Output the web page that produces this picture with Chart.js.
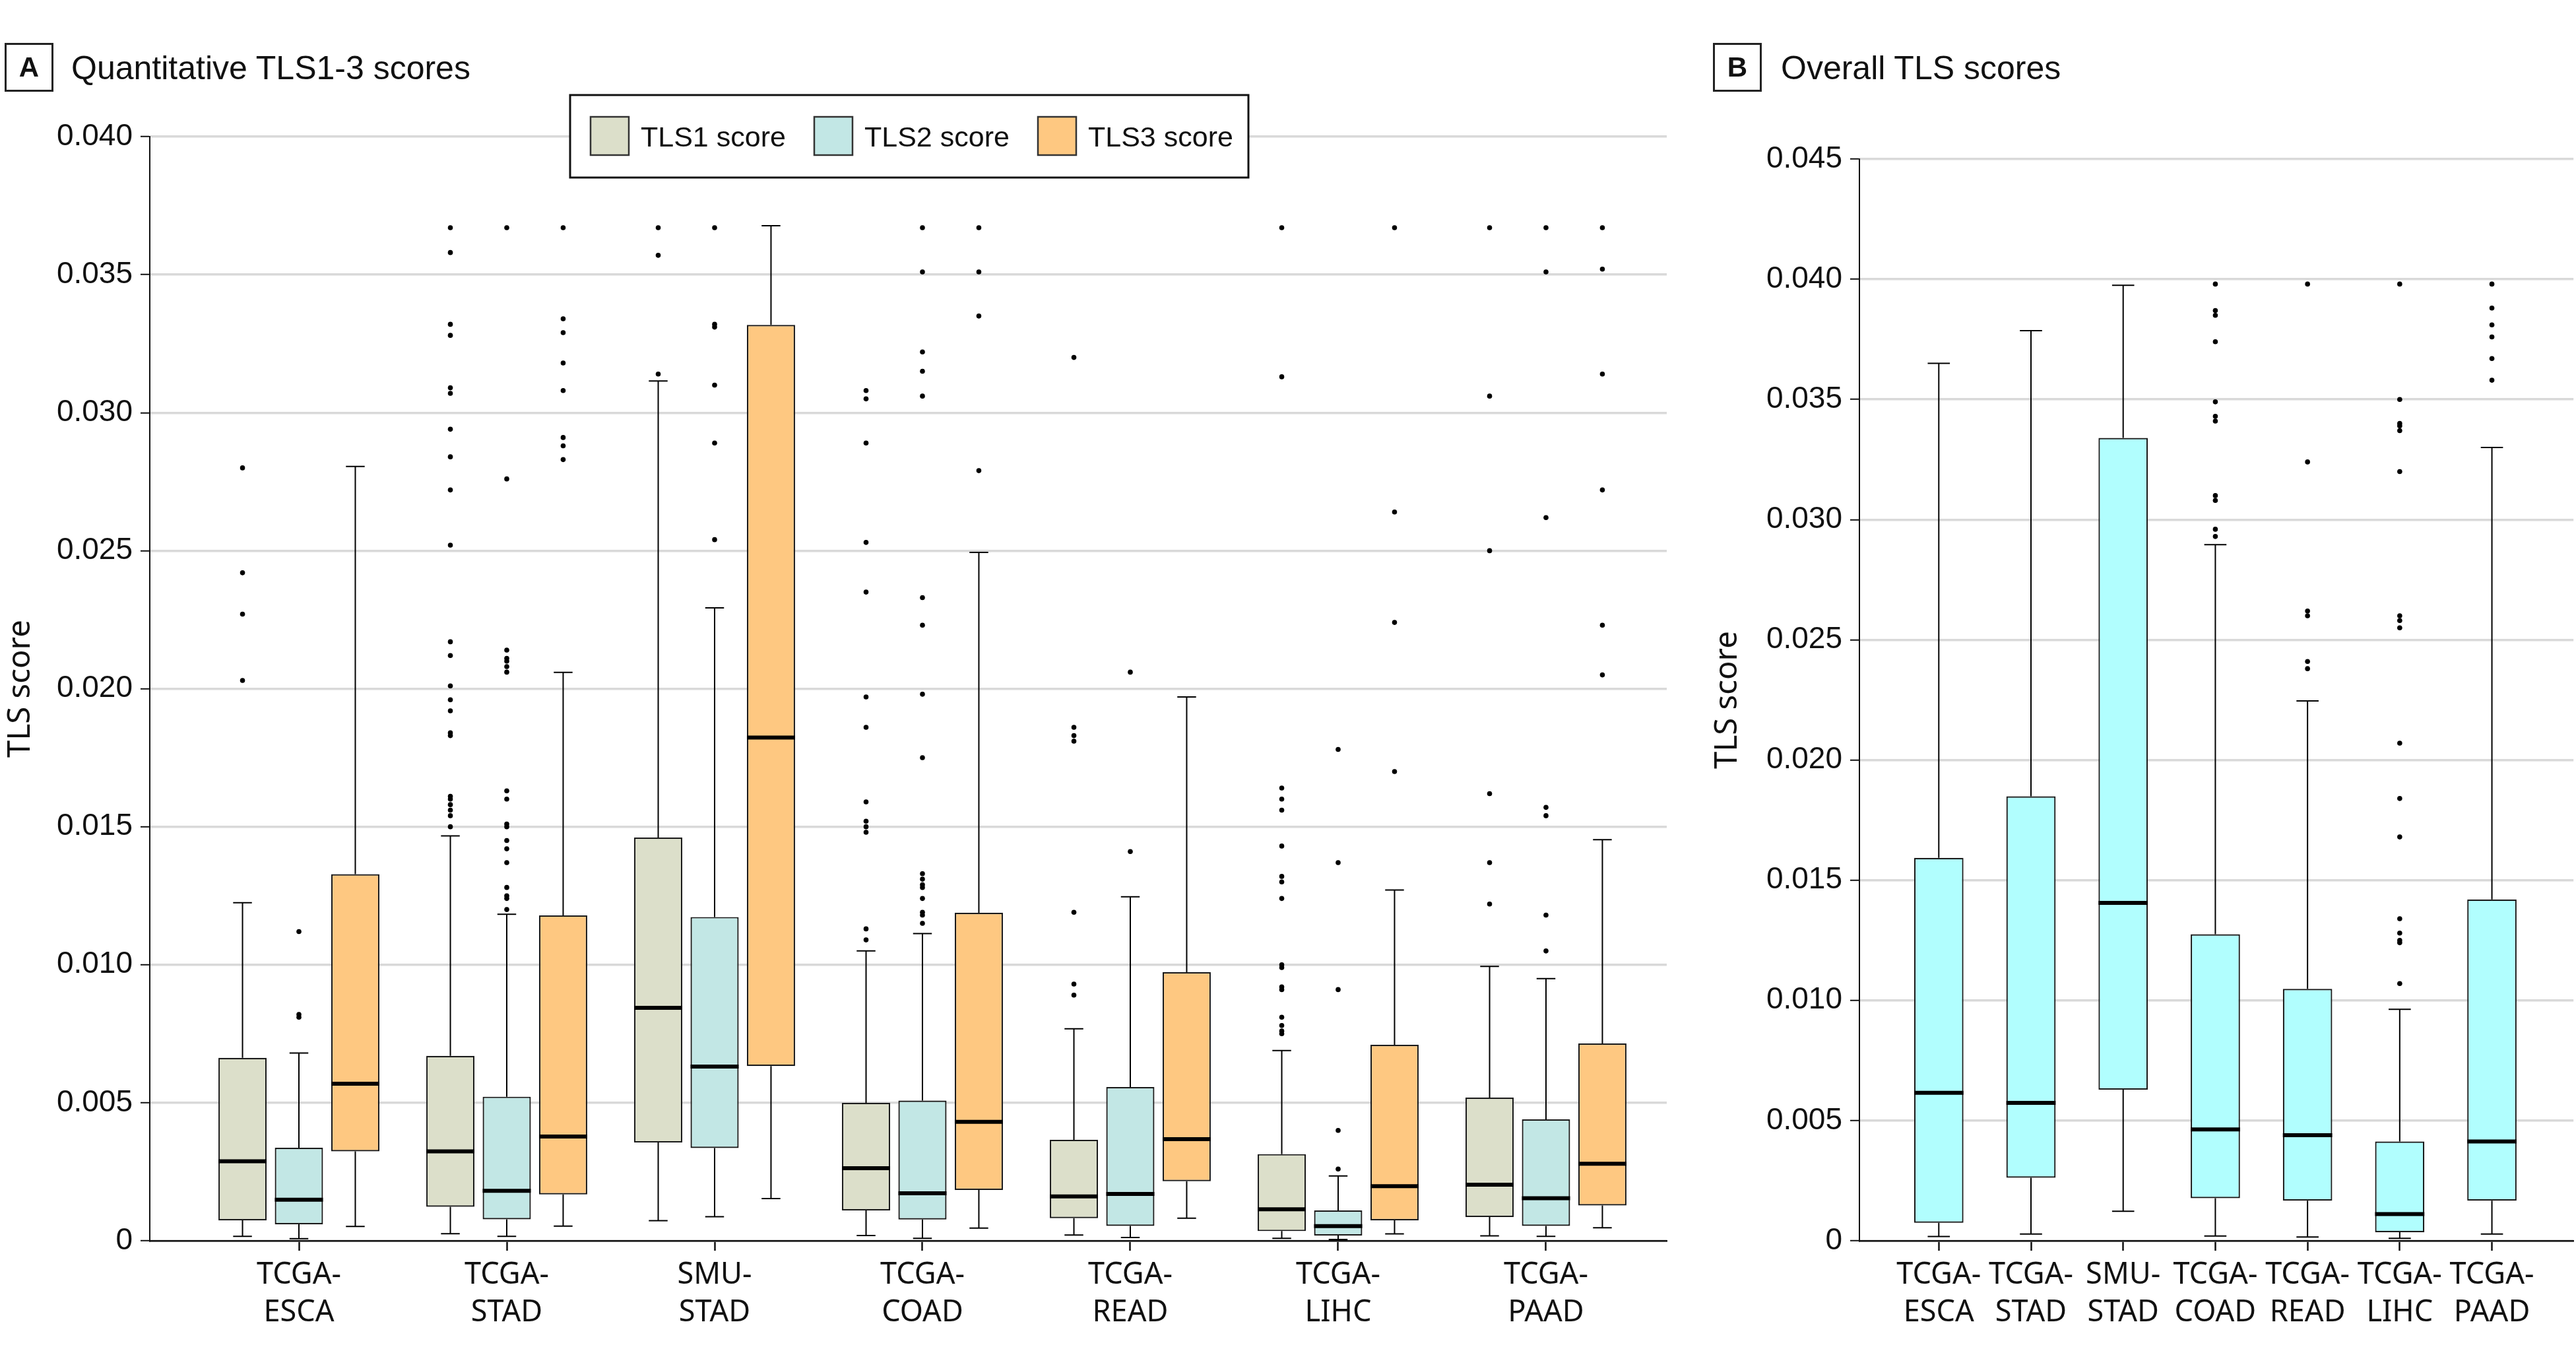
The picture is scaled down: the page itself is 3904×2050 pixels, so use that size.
<!DOCTYPE html>
<html>
<head>
<meta charset="utf-8">
<script src="https://cdn.jsdelivr.net/npm/chart.js@4.4.1/dist/chart.umd.min.js"></script>
<style>
    html, body { margin: 0; padding: 0; background: #fff; overflow: hidden; }
    body { width: 3904px; height: 2050px; position: relative; font-family: "Liberation Sans", Arial, sans-serif; color: #111; }
    .panel { position: absolute; top: 0; height: 2050px; }
    #panelA { left: 0; width: 2560px; }
    #panelB { left: 2560px; width: 1344px; }
    .tag { position: absolute; top: 65px; width: 74px; height: 74px; box-sizing: border-box; border: 3px solid #222;
           display: flex; align-items: center; justify-content: center; font-weight: bold; font-size: 42px; }
    .heading { position: absolute; top: 78px; font-size: 50px; line-height: 50px; white-space: nowrap; }
</style>
</head>
<body>
<div class="panel" id="panelA"><canvas id="chartA"></canvas></div>
<div class="panel" id="panelB"><canvas id="chartB"></canvas></div>
<div class="tag" style="left:7px">A</div>
<div class="heading" style="left:108px">Quantitative TLS1-3 scores</div>
<div class="tag" style="left:2596px">B</div>
<div class="heading" style="left:2699px">Overall TLS scores</div>
<script>
// categories and series
const categories = ["TCGA-ESCA", "TCGA-STAD", "SMU-STAD", "TCGA-COAD", "TCGA-READ", "TCGA-LIHC", "TCGA-PAAD"];
const seriesNames = ["TLS1 score", "TLS2 score", "TLS3 score"];

// box stats per category: [lower whisker, Q1, median, Q3, upper whisker]
const tls1Stats = [
    [0.00016, 0.00074, 0.00288, 0.00663, 0.01225],
    [0.00026, 0.00123, 0.00324, 0.00670, 0.01467],
    [0.00073, 0.00356, 0.00844, 0.01461, 0.03115],
    [0.00019, 0.00110, 0.00263, 0.00500, 0.01050],
    [0.00021, 0.00082, 0.00161, 0.00366, 0.00768],
    [0.00009, 0.00035, 0.00114, 0.00314, 0.00689],
    [0.00018, 0.00086, 0.00203, 0.00519, 0.00994]
];
const tls2Stats = [
    [0.00008, 0.00060, 0.00149, 0.00337, 0.00680],
    [0.00016, 0.00078, 0.00181, 0.00522, 0.01183],
    [0.00087, 0.00336, 0.00631, 0.01173, 0.02293],
    [0.00009, 0.00077, 0.00172, 0.00508, 0.01113],
    [0.00012, 0.00054, 0.00170, 0.00557, 0.01246],
    [0.00005, 0.00019, 0.00053, 0.00110, 0.00235],
    [0.00016, 0.00054, 0.00154, 0.00440, 0.00950]
];
const tls3Stats = [
    [0.00052, 0.00324, 0.00569, 0.01328, 0.02805],
    [0.00053, 0.00168, 0.00378, 0.01179, 0.02059],
    [0.00153, 0.00633, 0.01823, 0.03318, 0.03677],
    [0.00046, 0.00184, 0.00431, 0.01188, 0.02494],
    [0.00082, 0.00216, 0.00368, 0.00973, 0.01970],
    [0.00025, 0.00074, 0.00198, 0.00710, 0.01271],
    [0.00047, 0.00128, 0.00279, 0.00715, 0.01453]
];
const overallStats = [
    [0.00018, 0.00075, 0.00616, 0.01593, 0.03650],
    [0.00028, 0.00262, 0.00574, 0.01849, 0.03786],
    [0.00123, 0.00629, 0.01406, 0.03340, 0.03975],
    [0.00020, 0.00177, 0.00463, 0.01275, 0.02896],
    [0.00016, 0.00167, 0.00439, 0.01048, 0.02246],
    [0.00010, 0.00036, 0.00111, 0.00413, 0.00963],
    [0.00028, 0.00167, 0.00413, 0.01420, 0.03300]
];

// outliers per category
const tls1Outliers = [
    [0.0203, 0.0227, 0.0242, 0.0280],
    [0.0150, 0.0154, 0.0156, 0.0158, 0.0160, 0.0161, 0.0183, 0.0184, 0.0192, 0.0196, 0.0201, 0.0212,
     0.0217, 0.0252, 0.0272, 0.0284, 0.0294, 0.0307, 0.0309, 0.0328, 0.0332, 0.0358, 0.0367],
    [0.0314, 0.0357, 0.0367],
    [0.0109, 0.0113, 0.0148, 0.0150, 0.0152, 0.0159, 0.0186, 0.0197, 0.0235, 0.0253, 0.0289, 0.0305, 0.0308],
    [0.0089, 0.0093, 0.0119, 0.0181, 0.0183, 0.0186, 0.0320],
    [0.0075, 0.0076, 0.0078, 0.0081, 0.0091, 0.0092, 0.0099, 0.0100, 0.0124, 0.0130, 0.0132, 0.0143,
     0.0156, 0.0160, 0.0164, 0.0313, 0.0367],
    [0.0122, 0.0137, 0.0162, 0.0250, 0.0306, 0.0367]
];
const tls2Outliers = [
    [0.0081, 0.0082, 0.0112],
    [0.0120, 0.0124, 0.0125, 0.0128, 0.0137, 0.0142, 0.0145, 0.0150, 0.0151, 0.0160, 0.0163, 0.0206,
     0.0208, 0.0210, 0.0211, 0.0214, 0.0276, 0.0367],
    [0.0254, 0.0289, 0.0310, 0.0331, 0.0332, 0.0367],
    [0.0115, 0.0118, 0.0119, 0.0124, 0.0128, 0.0129, 0.0131, 0.0133, 0.0175, 0.0198, 0.0223, 0.0233,
     0.0306, 0.0315, 0.0322, 0.0351, 0.0367],
    [0.0141, 0.0206],
    [0.0026, 0.0040, 0.0091, 0.0137, 0.0178],
    [0.0105, 0.0118, 0.0154, 0.0157, 0.0262, 0.0351, 0.0367]
];
const tls3Outliers = [
    [],
    [0.0283, 0.0288, 0.0291, 0.0308, 0.0318, 0.0329, 0.0334, 0.0367],
    [],
    [0.0279, 0.0335, 0.0351, 0.0367],
    [],
    [0.0170, 0.0224, 0.0264, 0.0367],
    [0.0205, 0.0223, 0.0272, 0.0314, 0.0352, 0.0367]
];
const overallOutliers = [
    [],
    [],
    [],
    [0.0293, 0.0296, 0.0308, 0.0310, 0.0341, 0.0343, 0.0349, 0.0374, 0.0385, 0.0387, 0.0398],
    [0.0238, 0.0241, 0.0260, 0.0262, 0.0324, 0.0398],
    [0.0107, 0.0124, 0.0125, 0.0128, 0.0134, 0.0168, 0.0184, 0.0207, 0.0255, 0.0258, 0.0260, 0.0320,
     0.0337, 0.0339, 0.0340, 0.0350, 0.0398],
    [0.0358, 0.0367, 0.0376, 0.0381, 0.0388, 0.0398]
];

// y axis tick values
const yTicksA = [0, 0.005, 0.010, 0.015, 0.020, 0.025, 0.030, 0.035, 0.040];
const yTicksB = [0, 0.005, 0.010, 0.015, 0.020, 0.025, 0.030, 0.035, 0.040, 0.045];

const plainFont = '"Liberation Sans", Arial, sans-serif';
const ink = '#111';
const lineInk = '#111';

// look for a narrow face for the axis labels, fall back to the plain one
const probe = document.createElement('canvas').getContext('2d');
function measure(font, text) {
    probe.font = '40px monospace';
    probe.font = font;
    return probe.measureText(text).width;
}
const sample = 'TCGA-ESCA STAD';
const monoWidth = measure('40px monospace', sample);
const plainWidth = measure('40px ' + plainFont, sample);
const narrowCandidates = [
    ['normal', '"Liberation Sans Narrow"'],
    ['normal', '"Arial Narrow"'],
    ['normal', '"Noto Sans Condensed"'],
    ['normal condensed', '"Noto Sans"'],
    ['normal', '"Roboto Condensed"'],
    ['normal condensed', 'Roboto'],
    ['normal', '"Open Sans Condensed"'],
    ['normal condensed', '"Open Sans"'],
    ['normal', '"DejaVu Sans Condensed"'],
    ['normal condensed', '"DejaVu Sans"']
];
let narrow = { weight: 'normal', family: plainFont };
for (const [w, f] of narrowCandidates) {
    const wd = measure(w + ' 40px ' + f + ', monospace', sample);
    if (Math.abs(wd - monoWidth) > 0.5 && wd < plainWidth * 0.92) {
        narrow = { weight: w, family: f + ', ' + plainFont };
        break;
    }
}
function fitSize(text, target, lo, hi) {
    const w = measure(narrow.weight + ' 40px ' + narrow.family, text);
    return Math.max(lo, Math.min(hi, 40 * target / w));
}
const xLabelSize = fitSize('TCGA-', 128, 30, 50);
const yTitleSize = fitSize('TLS score', 209, 36, 58);

function splitLabel(name) {
    const k = name.indexOf('-');
    return [name.slice(0, k + 1), name.slice(k + 1)];
}

function boxData(stats) {
    return stats.map((s, i) => ({ x: i, y: [s[1], s[3]] }));
}

function outlierPoints(lists, offset) {
    const pts = [];
    lists.forEach((vals, i) => vals.forEach(v => pts.push({ x: i + offset, y: v })));
    return pts;
}

function tickLabel(v) {
    return v === 0 ? '0' : v.toFixed(3);
}

// whiskers and medians, placed on the bar elements and the y scale
const boxWhiskers = {
    id: 'boxWhiskers',
    afterDatasetsDraw(chart) {
        const ctx = chart.ctx;
        const y = chart.scales.y;
        chart.data.datasets.forEach((ds, di) => {
            if (!ds.stats) return;
            const meta = chart.getDatasetMeta(di);
            meta.data.forEach((bar, i) => {
                const { x, width } = bar.getProps(['x', 'width'], true);
                const [low, q1, med, q3, high] = ds.stats[i];
                const cap = width * ds.capRatio / 2;
                const yLow = y.getPixelForValue(low);
                const yQ1 = y.getPixelForValue(q1);
                const yQ3 = y.getPixelForValue(q3);
                const yHigh = y.getPixelForValue(high);
                const yMed = y.getPixelForValue(med);
                ctx.save();
                ctx.strokeStyle = '#000';
                ctx.lineWidth = 2;
                ctx.beginPath();
                ctx.moveTo(x, yQ3); ctx.lineTo(x, yHigh);
                ctx.moveTo(x - cap, yHigh); ctx.lineTo(x + cap, yHigh);
                ctx.moveTo(x, yQ1); ctx.lineTo(x, yLow);
                ctx.moveTo(x - cap, yLow); ctx.lineTo(x + cap, yLow);
                ctx.stroke();
                ctx.lineWidth = 6;
                ctx.beginPath();
                ctx.moveTo(x - width / 2, yMed); ctx.lineTo(x + width / 2, yMed);
                ctx.stroke();
                ctx.restore();
            });
        });
    }
};

// framed legend inside the plot of panel A
const boxLegend = {
    id: 'boxLegend',
    afterDraw(chart, args, opts) {
        if (!opts.show) return;
        const ctx = chart.ctx;
        const items = chart.data.datasets.filter(d => d.stats);
        ctx.save();
        ctx.fillStyle = '#fff';
        ctx.fillRect(opts.left, opts.top, opts.width, opts.height);
        ctx.strokeStyle = ink;
        ctx.lineWidth = 3;
        ctx.strokeRect(opts.left, opts.top, opts.width, opts.height);
        ctx.font = '43px ' + plainFont;
        ctx.textBaseline = 'alphabetic';
        items.forEach((ds, k) => {
            const sx = opts.left + opts.padLeft + k * opts.step;
            ctx.fillStyle = ds.backgroundColor;
            ctx.fillRect(sx, opts.swatchTop, opts.swatch, opts.swatch);
            ctx.strokeStyle = '#333';
            ctx.lineWidth = 2.5;
            ctx.strokeRect(sx, opts.swatchTop, opts.swatch, opts.swatch);
            ctx.fillStyle = ink;
            ctx.fillText(ds.label, sx + opts.textGap, opts.baseline);
        });
        ctx.restore();
    }
};

function xScale(min, max) {
    return {
        type: 'linear',
        min: min,
        max: max,
        bounds: 'data',
        offset: false,
        afterBuildTicks: s => { s.ticks = categories.map((c, i) => ({ value: i })); },
        afterFit: s => { s.height = 170; },
        grid: { offset: false, drawOnChartArea: false, tickLength: 15, tickColor: lineInk, tickWidth: 2.5 },
        border: { color: lineInk, width: 2.5 },
        ticks: {
            autoSkip: false,
            maxRotation: 0,
            padding: 9,
            color: ink,
            font: { family: narrow.family, weight: narrow.weight, size: xLabelSize, lineHeight: 57 / xLabelSize },
            callback: v => splitLabel(categories[v])
        }
    };
}

function yScale(ticks, width, titlePad) {
    return {
        min: ticks[0],
        max: ticks[ticks.length - 1],
        afterBuildTicks: s => { s.ticks = ticks.map(v => ({ value: v })); },
        afterFit: s => { s.width = width; },
        grid: { color: '#d9d9d9', lineWidth: 3.5, tickColor: lineInk, tickLength: 14, tickWidth: 2 },
        border: { color: lineInk, width: 2 },
        ticks: {
            padding: 12,
            color: ink,
            font: { family: plainFont, size: 46 },
            callback: v => tickLabel(v)
        },
        title: {
            display: true,
            text: 'TLS score',
            color: ink,
            font: { family: narrow.family, weight: narrow.weight, size: yTitleSize, lineHeight: 1.2 },
            padding: { top: titlePad, bottom: 0 }
        }
    };
}

const pointStyle = {
    type: 'scatter',
    pointRadius: 3.8,
    pointHoverRadius: 3.8,
    backgroundColor: '#000',
    borderColor: '#000',
    borderWidth: 0
};

// Panel A: TLS1-3 scores
const groupOffset = 0.814 / 3;
const colorsA = ['#dcdfca', '#c2e7e5', '#fec881'];
const statsA = [tls1Stats, tls2Stats, tls3Stats];
const outliersA = [tls1Outliers, tls2Outliers, tls3Outliers];

const datasetsA = [];
seriesNames.forEach((name, k) => {
    datasetsA.push({
        label: name,
        data: boxData(statsA[k]),
        stats: statsA[k],
        capRatio: 0.39,
        backgroundColor: colorsA[k],
        borderColor: '#1a1a1a',
        borderWidth: 2.2
    });
});
seriesNames.forEach((name, k) => {
    datasetsA.push(Object.assign({ label: name + ' outliers', data: outlierPoints(outliersA[k], (k - 1) * groupOffset) }, pointStyle));
});

new Chart(document.getElementById('chartA').getContext('2d'), {
    type: 'bar',
    data: { datasets: datasetsA },
    options: {
        animation: false,
        responsive: true,
        maintainAspectRatio: false,
        layout: { padding: { top: 207, right: 34, bottom: 0, left: 0 } },
        datasets: { bar: { categoryPercentage: 0.814, barPercentage: 0.854, borderSkipped: false } },
        plugins: {
            legend: { display: false },
            tooltip: { enabled: false },
            boxLegend: {
                show: true, left: 864, top: 144, width: 1028, height: 125,
                padLeft: 31, step: 339, swatch: 58, swatchTop: 177, textGap: 76, baseline: 222
            }
        },
        scales: {
            x: xScale(-0.7175, 6.581),
            y: yScale(yTicksA, 227, 3)
        }
    },
    plugins: [boxWhiskers, boxLegend]
});

// Panel B: overall TLS scores
new Chart(document.getElementById('chartB').getContext('2d'), {
    type: 'bar',
    data: {
        datasets: [
            {
                label: 'Overall TLS score',
                data: boxData(overallStats),
                stats: overallStats,
                capRatio: 0.45,
                backgroundColor: '#b1fefe',
                borderColor: '#1a1a1a',
                borderWidth: 2.2
            },
            Object.assign({ label: 'Overall outliers', data: outlierPoints(overallOutliers, 0) }, pointStyle)
        ]
    },
    options: {
        animation: false,
        responsive: true,
        maintainAspectRatio: false,
        layout: { padding: { top: 241, right: 0, bottom: 0, left: 0 } },
        datasets: { bar: { categoryPercentage: 0.535, barPercentage: 1, borderSkipped: false } },
        plugins: {
            legend: { display: false },
            tooltip: { enabled: false },
            boxLegend: { show: false }
        },
        scales: {
            x: xScale(-0.861, 6.885),
            y: yScale(yTicksB, 258, 30)
        }
    },
    plugins: [boxWhiskers, boxLegend]
});
</script>
</body>
</html>
